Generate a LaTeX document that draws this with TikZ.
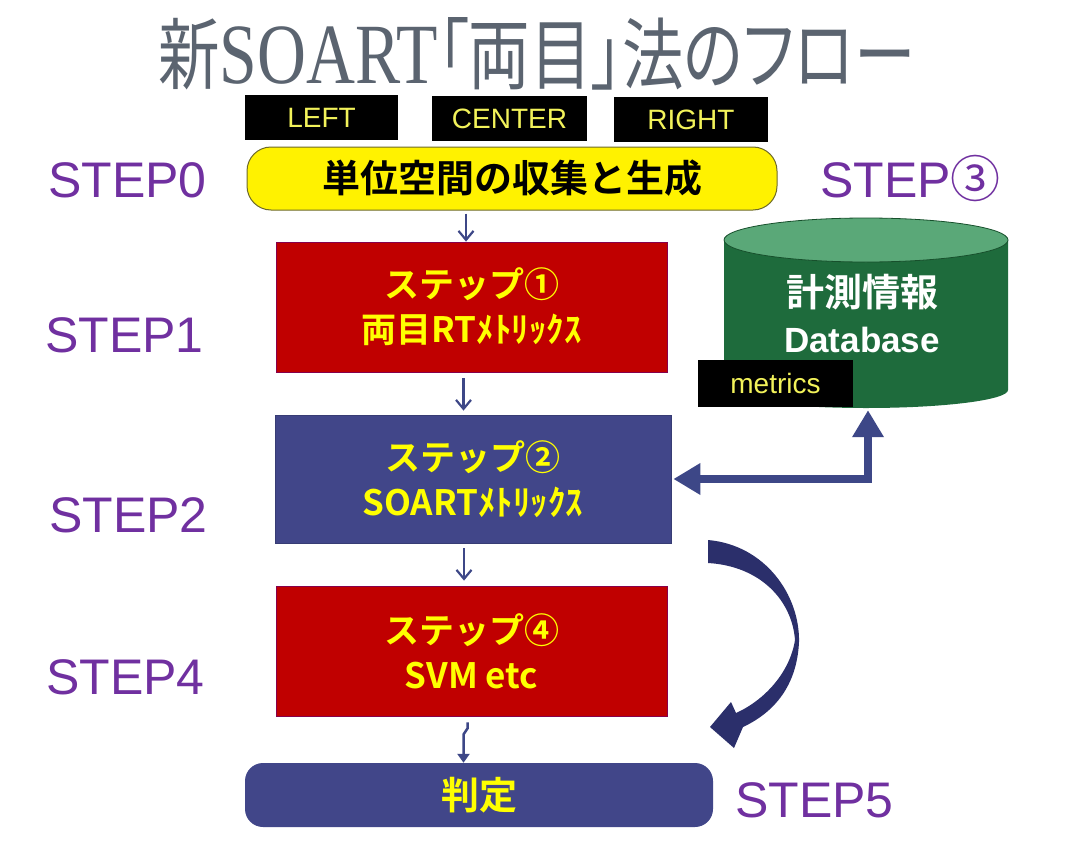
\documentclass[tikz,border=0pt]{standalone}
\usepackage{fontspec}
\usepackage{graphicx}
\setmainfont{Liberation Sans}
\newfontfamily\jp{Noto Sans CJK JP}[BoldFont={Noto Sans CJK JP Bold}]
\newfontfamily\jpp{Noto Sans CJK JP}[RawFeature={+palt}]
\newfontfamily\tserif{Liberation Serif}
\usetikzlibrary{arrows.meta,calc}
\definecolor{titlegray}{HTML}{5B6470}
\definecolor{steppurple}{HTML}{7030A0}
\definecolor{boxred}{HTML}{C00000}
\definecolor{boxblue}{HTML}{414689}
\definecolor{arrowblue}{HTML}{3D4787}
\definecolor{navy}{HTML}{2B2F6B}
\definecolor{dbgreen}{HTML}{1E6B3C}
\definecolor{dbtop}{HTML}{5AA878}
\definecolor{dbedge}{HTML}{17502C}
\definecolor{lblyellow}{HTML}{F2F25A}
\definecolor{txtyellow}{HTML}{FFFF00}
\definecolor{oliveedge}{HTML}{6E6A2A}
\begin{document}
\begin{tikzpicture}[x=1pt,y=-1pt,
  lbl/.style={fill=black, text=lblyellow, minimum width=154pt, minimum height=45pt, inner sep=0pt, font=\fontsize{28}{28}\selectfont},
  steplbl/.style={text=steppurple, anchor=west, inner sep=0pt, font=\fontsize{50}{50}\selectfont},
  procbox/.style={minimum width=391pt, minimum height=130pt, inner sep=0pt, align=center, text=txtyellow, font=\jp\bfseries\fontsize{35}{45}\selectfont},
  redbox/.style={procbox, fill=boxred, draw=boxred!70!blue, line width=0.8pt},
  bluebox/.style={procbox, fill=boxblue, draw=boxblue!85!black, line width=0.8pt},
  flow/.style={draw=arrowblue, line width=2.2pt, -{Straight Barb[length=9pt,width=15pt]}},
  bigflow/.style={draw=arrowblue, line width=8pt, {Triangle[length=27pt,width=30pt]}-{Triangle[length=27pt,width=30pt]}}
]
\useasboundingbox (0,0) rectangle (1081,851);
\fill[white] (0,0) rectangle (1081,851);

% title
\node[anchor=base west, inner sep=0pt, text=titlegray] (title) at (158,84)
  {\resizebox{757pt}{66pt}{\jpp\fontsize{70}{70}\selectfont 新{\tserif\fontsize{77}{77}\selectfont SOART}「両目」法のフロー}};

% labels
\node[lbl, minimum width=153pt] (left) at (321.5,117.5) {LEFT};
\node[lbl, minimum width=155pt] (center) at (509.5,118.5) {CENTER};
\node[lbl] (right) at (691,119.5) {RIGHT};

% step 0
\node[fill=yellow, draw=oliveedge, line width=1pt, rounded corners=24pt, minimum width=530pt, minimum height=63pt, inner sep=0pt,
      font=\jp\bfseries\fontsize{38}{38}\selectfont] (s0) at (512,178.5) {単位空間の収集と生成};

% process boxes
\node[redbox] (box1) at (471.5,307) {ステップ①\\両目RTﾒﾄﾘｯｸｽ};
\node[bluebox, minimum width=396pt, minimum height=128pt] (box2) at (473,479) {ステップ②\\SOARTﾒﾄﾘｯｸｽ};
\node[redbox] (box4) at (471.5,651) {ステップ④\\SVM etc};
\node[fill=boxblue, rounded corners=18pt, minimum width=468pt, minimum height=64pt, inner sep=0pt, text=txtyellow,
      font=\jp\bfseries\fontsize{38}{38}\selectfont] (judge) at (479,795) {判定};

% database cylinder
\node[minimum width=284pt, minimum height=188pt, inner sep=0pt] (db) at (866,314) {};
\fill[dbgreen] (724,240) -- (724,390) arc[start angle=180, end angle=360, x radius=142pt, y radius=18pt]
   -- (1008,240) -- cycle;
\draw[dbedge, line width=0.8pt, fill=dbtop] (866,240) ellipse[x radius=142pt, y radius=22pt];
\node[text=white, inner sep=0pt, font=\jp\bfseries\fontsize{38}{38}\selectfont] (dbt1) at (862,292) {計測情報};
\node[text=white, inner sep=0pt, font=\bfseries\fontsize{35}{35}\selectfont] (dbt2) at (862,340) {Database};
\node[lbl, minimum width=155pt, minimum height=47pt] (metrics) at (775.5,383.5) {metrics};

% step labels
\node[steplbl] (st0) at (48,180) {STEP0};
\node[steplbl] (st1) at (45,335) {STEP1};
\node[steplbl] (st2) at (49,515) {STEP2};
\node[steplbl] (st4) at (46,677) {STEP4};
\node[steplbl] (st5) at (735,800) {STEP5};
\node[steplbl] (st3) at (820,178) {STEP{\jp ③}};

% thin connectors
\coordinate (a0) at ($(s0.south)+(-46,0)$);
\coordinate (a1) at ($(box1.south)+(-8,0)$);
\coordinate (a2) at ($(box2.south)+(-9,0)$);
\coordinate (a4) at ($(box4.south)+(-4,6)$);
\coordinate (a4b) at ($(box4.south)+(-8,0)$);
\draw[flow, shorten <=3pt] (a0) -- (a0 |- box1.north);
\draw[flow, shorten <=6pt, shorten >=4pt] (a1) -- (a1 |- box2.north);
\draw[flow, shorten <=5pt, shorten >=5pt] (a2) -- (a2 |- box4.north);
\draw[draw=arrowblue, line width=2.5pt, -{Triangle[length=9pt,width=12pt]}]
  (a4) -- ++(0,6) -- ++(-4,6) -- (a4b |- judge.north);

% thick elbow connector
\coordinate (e0) at ($(box2.east)+(2,0)$);
\coordinate (e1) at ($(db.south)+(2,2)$);
\draw[bigflow] (e0) -| (e1);

% curved arrow
\fill[navy] (708,540) .. controls (765,545) and (800,595) .. (799,642)
  .. controls (797,685) and (775,712) .. (743,727)
  -- (734,748) -- (710,727) -- (731,702) -- (736,713)
  .. controls (765,700) and (790,672) .. (795,640)
  .. controls (792,600) and (760,566) .. (708,563) -- cycle;
\end{tikzpicture}
\end{document}
